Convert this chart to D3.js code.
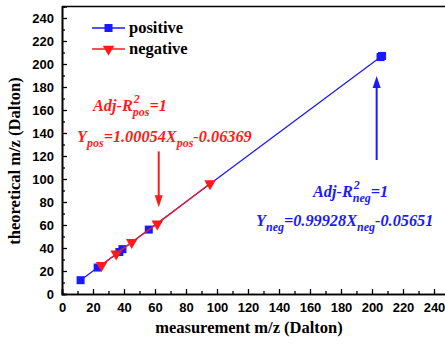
<!DOCTYPE html>
<html><head><meta charset="utf-8">
<script src="https://cdn.jsdelivr.net/npm/d3@7"></script>
<style>body{margin:0;background:#fff}svg{display:block}</style>
</head><body>
<script>
// ---- data ----
const posX = [12, 23, 37, 39, 56, 205.5, 206.5];
const posY = [12, 23, 36.5, 39, 56, 206, 207];
const negX = [25.5, 35, 45, 61.5, 95.5];
const negY = [25, 35, 45, 61, 96];
const xTicks = [0,20,40,60,80,100,120,140,160,180,200,220,240];
const yTicks = [0,20,40,60,80,100,120,140,160,180,200,220,240];
const seriesNames = ["positive", "negative"];
// arrows in data coords: [x, yFrom, yTo]
const arrowPos = [62.4, 124, 75.5];
const arrowNeg = [203, 116.5, 189.5];

const W = 445, H = 345;
const svg = d3.select("body").append("svg").attr("width", W).attr("height", H);
const x = d3.scaleLinear().domain([0, 250]).range([62, 449.5]);
const y = d3.scaleLinear().domain([0, 250]).range([294, 6.5]);
const blue = "#1a1aff", red = "#ff1a1a";

// axes
const xAxis = d3.axisBottom(x).tickValues(xTicks).tickSize(-5).tickPadding(9).tickFormat(d3.format("d"));
const yAxis = d3.axisLeft(y).tickValues(yTicks).tickSize(-5).tickPadding(8).tickFormat(d3.format("d"));
const gx = svg.append("g").attr("transform", `translate(0,${y(0)})`).call(xAxis);
const gy = svg.append("g").attr("transform", `translate(${x(0)},0)`).call(yAxis);
// minor ticks
const xMinor = d3.axisBottom(x).tickValues(d3.range(10, 250, 20)).tickSize(-3).tickFormat("");
const yMinor = d3.axisLeft(y).tickValues(d3.range(10, 250, 20)).tickSize(-3).tickFormat("");
svg.append("g").attr("transform", `translate(0,${y(0)})`).call(xMinor);
svg.append("g").attr("transform", `translate(${x(0)},0)`).call(yMinor);
svg.selectAll(".domain").attr("stroke", "#000").attr("stroke-width", 1.6);
svg.selectAll(".tick line").attr("stroke", "#000").attr("stroke-width", 1.3);
svg.selectAll(".tick text").attr("font-family", "Liberation Sans, Arial, sans-serif")
  .attr("font-weight", "bold").attr("font-size", 13).attr("fill", "#000");
// top frame
svg.append("line").attr("x1", x(0)).attr("x2", W).attr("y1", y(250)).attr("y2", y(250))
  .attr("stroke", "#000").attr("stroke-width", 1.6);

// lines
const line = d3.line().x(d => x(d[0])).y(d => y(d[1]));
const posPts = posX.map((v, i) => [v, posY[i]]);
const negPts = negX.map((v, i) => [v, negY[i]]);
svg.append("path").datum(posPts).attr("d", line).attr("fill", "none").attr("stroke", blue).attr("stroke-width", 1.3);
svg.selectAll(".sq").data(posPts).join("rect").attr("class", "sq")
  .attr("x", d => x(d[0]) - 4).attr("y", d => y(d[1]) - 4).attr("width", 8).attr("height", 8).attr("fill", blue);
svg.append("path").datum(negPts).attr("d", line).attr("fill", "none").attr("stroke", red).attr("stroke-width", 1.3);
const tri = d3.symbol().type(d3.symbolTriangle).size(58);
svg.selectAll(".tri").data(negPts).join("path").attr("class", "tri")
  .attr("d", tri).attr("transform", d => `translate(${x(d[0])},${y(d[1])}) rotate(180)`).attr("fill", red);

// legend
const serif = "Liberation Serif, Times New Roman, serif";
seriesNames.forEach((name, i) => {
  const ly = 28 + i * 21, col = i === 0 ? blue : red;
  svg.append("line").attr("x1", 92).attr("x2", 125).attr("y1", ly).attr("y2", ly).attr("stroke", col).attr("stroke-width", 1.5);
  if (i === 0) svg.append("rect").attr("x", 108.5 - 4).attr("y", ly - 4).attr("width", 8).attr("height", 8).attr("fill", col);
  else svg.append("path").attr("d", tri).attr("transform", `translate(108.5,${ly}) rotate(180)`).attr("fill", col);
  svg.append("text").attr("x", 129).attr("y", ly + 5).text(name)
    .attr("font-family", serif).attr("font-weight", "bold").attr("font-size", 16.5);
});

// axis titles
svg.append("text").attr("x", 249).attr("y", 333).attr("text-anchor", "middle")
  .attr("font-family", serif).attr("font-weight", "bold").attr("font-size", 16.5).text("measurement m/z (Dalton)");
svg.append("text").attr("transform", "translate(20,161) rotate(-90)").attr("text-anchor", "middle")
  .attr("font-family", serif).attr("font-weight", "bold").attr("font-size", 16.5).text("theoretical m/z (Dalton)");

// annotations
function rich(x0, y0, parts, col) {
  const t = svg.append("text").attr("x", x0).attr("y", y0).attr("fill", col)
    .attr("font-family", serif).attr("font-weight", "bold").attr("font-style", "italic").attr("font-size", 16.3);
  parts.forEach(p => {
    const s = t.append("tspan").text(p.t);
    if (p.dy) s.attr("dy", p.dy);
    if (p.dx) s.attr("dx", p.dx);
    if (p.fs) s.attr("font-size", p.fs);
  });
  return t;
}
function adj(x0, y0, sub, col) {
  const t = rich(x0, y0, [{t: "Adj-R"}], col);
  const w = t.node().getComputedTextLength();
  t.append("tspan").text("2").attr("font-size", 12).attr("dy", -8).attr("dx", 1);
  t.append("tspan").text(sub).attr("font-size", 12).attr("x", x0 + w).attr("dy", 13);
  t.append("tspan").text("=1").attr("dy", -5);
}
function eq(x0, y0, sub, a, b, col) {
  rich(x0, y0, [{t: "Y"}, {t: sub, fs: 12, dy: 5}, {t: "=" + a + "X", dy: -5},
    {t: sub, fs: 12, dy: 5}, {t: b, dy: -5}], col);
}
adj(93, 111, "pos", red);
eq(77, 142, "pos", "1.00054", "-0.06369", red);
adj(313, 197, "neg", blue);
eq(256, 226, "neg", "0.99928", "-0.05651", blue);

// arrows
function arrow(a, col) {
  const ax = x(a[0]), y1 = y(a[1]), y2 = y(a[2]);
  const dir = y2 > y1 ? 1 : -1;
  svg.append("line").attr("x1", ax).attr("x2", ax).attr("y1", y1).attr("y2", y2 - dir * 8)
    .attr("stroke", col).attr("stroke-width", 2);
  svg.append("path").attr("d", `M${ax},${y2} L${ax - 4},${y2 - dir * 12} L${ax + 4},${y2 - dir * 12} Z`).attr("fill", col);
}
arrow(arrowPos, red);
arrow(arrowNeg, blue);
</script>
</body></html>
